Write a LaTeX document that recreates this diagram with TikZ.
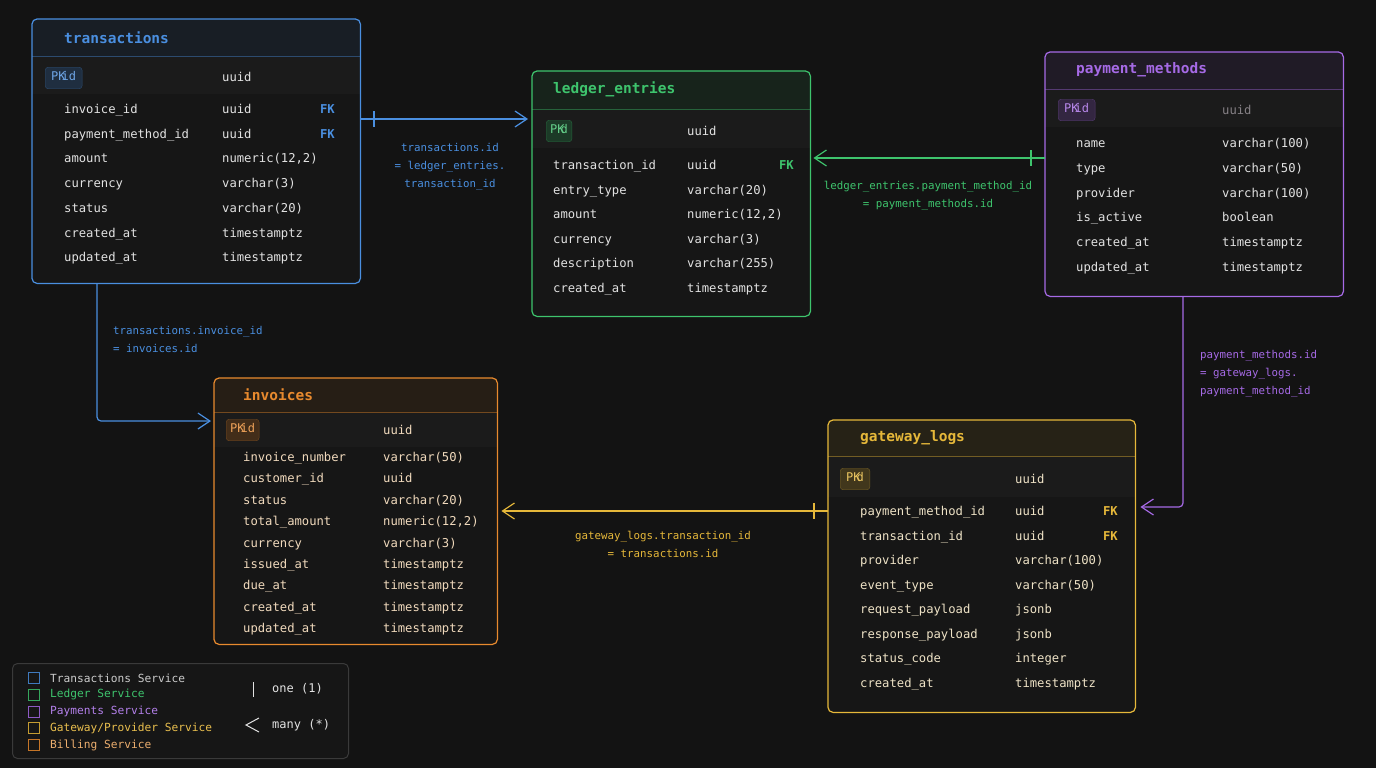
\documentclass[tikz,border=0pt]{standalone}
\usepackage{fontspec}
\setmonofont{DejaVu Sans Mono}
\usetikzlibrary{arrows.meta,positioning}

\definecolor{bgc}{HTML}{131313}
\definecolor{tblbg}{HTML}{161616}
\definecolor{pkrow}{HTML}{1B1B1B}
\definecolor{cblue}{HTML}{4A8FE0}
\definecolor{cgreen}{HTML}{3EC46D}
\definecolor{cpurple}{HTML}{A66AE6}
\definecolor{cgold}{HTML}{E6B83A}
\definecolor{corange}{HTML}{E88A2E}
\definecolor{txt}{HTML}{E2E2E2}
\definecolor{txtmute}{HTML}{858085}
\definecolor{txtinv}{HTML}{F0D9BC}
\definecolor{txtgw}{HTML}{EEE2C6}
\definecolor{lgline}{HTML}{3A3A3A}

\tikzset{
  tbl/.style={fill=tblbg, anchor=north west, inner sep=0pt, rounded corners=5pt},
  ttl/.style={anchor=west, inner sep=0pt, text=#1, font=\ttfamily\bfseries\fontsize{14.5}{16}\selectfont},
  col/.style={anchor=west, text=#1, text height=7.5pt, text depth=3.5pt, inner sep=0pt, yshift=-2.5pt,
    font=\ttfamily\fontsize{12.2}{14}\selectfont},
  col/.default=txt,
  fk/.style={anchor=east, text=#1, text height=7.5pt, text depth=3.5pt, inner sep=0pt, yshift=-2.5pt,
    font=\ttfamily\bfseries\fontsize{12.2}{14}\selectfont},
  pk/.style={anchor=west, fill=#1!22!bgc, draw=#1!45!bgc, rounded corners=3pt,
    inner xsep=6pt, inner ysep=5.5pt, text=#1!80!white, text height=8pt, text depth=2.5pt,
    font=\ttfamily\fontsize{12}{14}\selectfont},
  rel/.style={draw=#1, line width=1.2pt, -{Straight Barb[length=12pt,width=16pt]}},
  onebar/.style={draw=#1, line width=1.2pt},
  lbl/.style={text=#1, inner sep=0pt, align=center, font=\ttfamily\fontsize{10.8}{18}\selectfont},
  lgtext/.style={anchor=west, inner sep=0pt, text=#1, font=\ttfamily\fontsize{11.2}{13}\selectfont},
}

\begin{document}
\begin{tikzpicture}[x=1pt, y=-1pt]
\fill[bgc] (0,0) rectangle (1376,768);
\useasboundingbox (0,0) rectangle (1376,768);

% tables
\node[tbl, minimum width=328pt, minimum height=264pt] (trx) at (32,19) {};
\node[tbl, minimum width=278pt, minimum height=245pt] (led) at (532,71) {};
\node[tbl, minimum width=298pt, minimum height=244pt] (pay) at (1045,52) {};
\node[tbl, minimum width=283pt, minimum height=266pt] (inv) at (214,378) {};
\node[tbl, minimum width=307pt, minimum height=292pt] (gw) at (828,420) {};

\foreach \t/\c/\hy/\py in {trx/cblue/57/94, led/cgreen/109/148, pay/cpurple/89/127,
    inv/corange/412/447, gw/cgold/456/497} {
  \begin{scope}
    \clip[rounded corners=5pt] (\t.north west) rectangle (\t.south east);
    \fill[\c!9!bgc] (\t.north west) rectangle (\t.east |- 0,\hy);
    \fill[pkrow] (\t.west |- 0,\hy) rectangle (\t.east |- 0,\py);
  \end{scope}
  \draw[\c!45!bgc, line width=1pt] (\t.west |- 0,\hy) -- (\t.east |- 0,\hy);
  \draw[\c, line width=1.2pt, rounded corners=5pt] (\t.north west) rectangle (\t.south east);
}

% transactions
\node[ttl=cblue] (trx-t) at (64,38) {transactions};
\node[pk=cblue] (trx-pk) at (45,78) {PK\kern-4pt id};
\node[col] (trx-pkt) at (222,77) {uuid};
\foreach \n/\d [count=\i] in {invoice\_id/uuid, payment\_method\_id/uuid, amount/{numeric(12,2)},
    currency/{varchar(3)}, status/{varchar(20)}, created\_at/timestamptz, updated\_at/timestamptz} {
  \node[col] (trx-n\i) at (64,{109+24.7*(\i-1)}) {\n};
  \node[col] (trx-d\i) at (222,{109+24.7*(\i-1)}) {\d};
}
\node[fk=cblue] (trx-fk1) at (335,109) {FK};
\node[fk=cblue] (trx-fk2) at (335,133.7) {FK};

% ledger_entries
\node[ttl=cgreen] (led-t) at (553,89) {ledger\_entries};
\node[pk=cgreen, inner xsep=4pt] (led-pk) at (546,131) {PK\kern-4pt d};
\node[col] (led-pkt) at (687,131) {uuid};
\foreach \n/\d [count=\i] in {transaction\_id/uuid, entry\_type/{varchar(20)}, amount/{numeric(12,2)},
    currency/{varchar(3)}, description/{varchar(255)}, created\_at/timestamptz} {
  \node[col] (led-n\i) at (553,{165+24.6*(\i-1)}) {\n};
  \node[col] (led-d\i) at (687,{165+24.6*(\i-1)}) {\d};
}
\node[fk=cgreen] (led-fk1) at (794,165) {FK};

% payment_methods
\node[ttl=cpurple] (pay-t) at (1076,70) {payment\_methods};
\node[pk=cpurple] (pay-pk) at (1058,110) {PK\kern-4pt id};
\node[col=txtmute] (pay-pkt) at (1222,110) {uuid};
\foreach \n/\d [count=\i] in {name/{varchar(100)}, type/{varchar(50)}, provider/{varchar(100)},
    is\_active/boolean, created\_at/timestamptz, updated\_at/timestamptz} {
  \node[col] (pay-n\i) at (1076,{143+24.8*(\i-1)}) {\n};
  \node[col] (pay-d\i) at (1222,{143+24.8*(\i-1)}) {\d};
}

% invoices
\node[ttl=corange] (inv-t) at (243,395) {invoices};
\node[pk=corange, inner xsep=4pt] (inv-pk) at (226,430) {PK\kern-4pt id};
\node[col=txtinv] (inv-pkt) at (383,430) {uuid};
\foreach \n/\d [count=\i] in {invoice\_number/{varchar(50)}, customer\_id/uuid, status/{varchar(20)},
    total\_amount/{numeric(12,2)}, currency/{varchar(3)}, issued\_at/timestamptz, due\_at/timestamptz,
    created\_at/timestamptz, updated\_at/timestamptz} {
  \node[col=txtinv] (inv-n\i) at (243,{457+21.4*(\i-1)}) {\n};
  \node[col=txtinv] (inv-d\i) at (383,{457+21.4*(\i-1)}) {\d};
}

% gateway_logs
\node[ttl=cgold] (gw-t) at (860,438) {gateway\_logs};
\node[pk=cgold] (gw-pk) at (840,479) {PK\kern-4pt d};
\node[col=txtgw] (gw-pkt) at (1015,479) {uuid};
\foreach \n/\d [count=\i] in {payment\_method\_id/uuid, transaction\_id/uuid, provider/{varchar(100)},
    event\_type/{varchar(50)}, request\_payload/jsonb, response\_payload/jsonb, status\_code/integer,
    created\_at/timestamptz} {
  \node[col=txtgw] (gw-n\i) at (860,{511+24.57*(\i-1)}) {\n};
  \node[col=txtgw] (gw-d\i) at (1015,{511+24.57*(\i-1)}) {\d};
}
\node[fk=cgold] (gw-fk1) at (1118,511) {FK};
\node[fk=cgold] (gw-fk2) at (1118,535.6) {FK};

% relations
\draw[rel=cblue, shorten >=4pt] (trx.east |- 0,119) -- (led.west |- 0,119);
\draw[onebar=cblue] (374,111) -- (374,127);
\node[lbl=cblue] (r1) at (450,167) {transactions.id\\= ledger\_entries.\\transaction\_id};

\draw[rel=cgreen, shorten >=3pt] (pay.west |- 0,158) -- (led.east |- 0,158);
\draw[onebar=cgreen] (1031,150) -- (1031,166);
\node[lbl=cgreen] (r2) at (928,195.5) {ledger\_entries.payment\_method\_id\\= payment\_methods.id};

\draw[rel=cblue, rounded corners=4pt, shorten >=3pt] (trx.south -| 97,0) |- (inv.west |- 0,421);
\node[lbl=cblue, anchor=west, align=left] (r3) at (113,339.5) {transactions.invoice\_id\\= invoices.id};

\draw[rel=cgold, shorten >=4pt] (gw.west |- 0,511) -- (inv.east |- 0,511);
\draw[onebar=cgold] (814,503) -- (814,519);
\node[lbl=cgold] (r4) at (663,544) {gateway\_logs.transaction\_id\\= transactions.id};

\draw[rel=cpurple, rounded corners=4pt, shorten >=5pt] (pay.south -| 1183,0) |- (gw.east |- 0,507);
\node[lbl=cpurple, anchor=west, align=left] (r5) at (1200,374) {payment\_methods.id\\= gateway\_logs.\\payment\_method\_id};

% legend
\node[draw=lgline, fill=tblbg, line width=1pt, rounded corners=5pt, anchor=north west,
  minimum width=336pt, minimum height=95pt, inner sep=0pt] (legend) at (12,663) {};
\foreach \s/\c/\tc [count=\i] in {{Transactions Service}/cblue/txt!90!black,
    {Ledger Service}/cgreen/cgreen, {Payments Service}/cpurple/cpurple!85!white,
    {Gateway/Provider Service}/cgold/cgold!90!white, {Billing Service}/corange/corange!55!txtinv} {
  \draw[\c!85!black, line width=1pt] (28,{672.5+16.75*(\i-1)}) rectangle ++(11,11);
  \node[lgtext=\tc] (lg\i) at (50,{678+16.75*(\i-1)}) {\s};
}
\draw[txt, line width=1pt] (253,682) -- (253,697);
\node[lgtext=txt, font=\ttfamily\fontsize{12}{14}\selectfont] (lg-one) at (272,689) {one (1)};
\draw[txt, line width=1pt] (259,718) -- (246,725) -- (259,732);
\node[lgtext=txt, font=\ttfamily\fontsize{12}{14}\selectfont] (lg-many) at (272,725) {many (*)};
\end{tikzpicture}
\end{document}
